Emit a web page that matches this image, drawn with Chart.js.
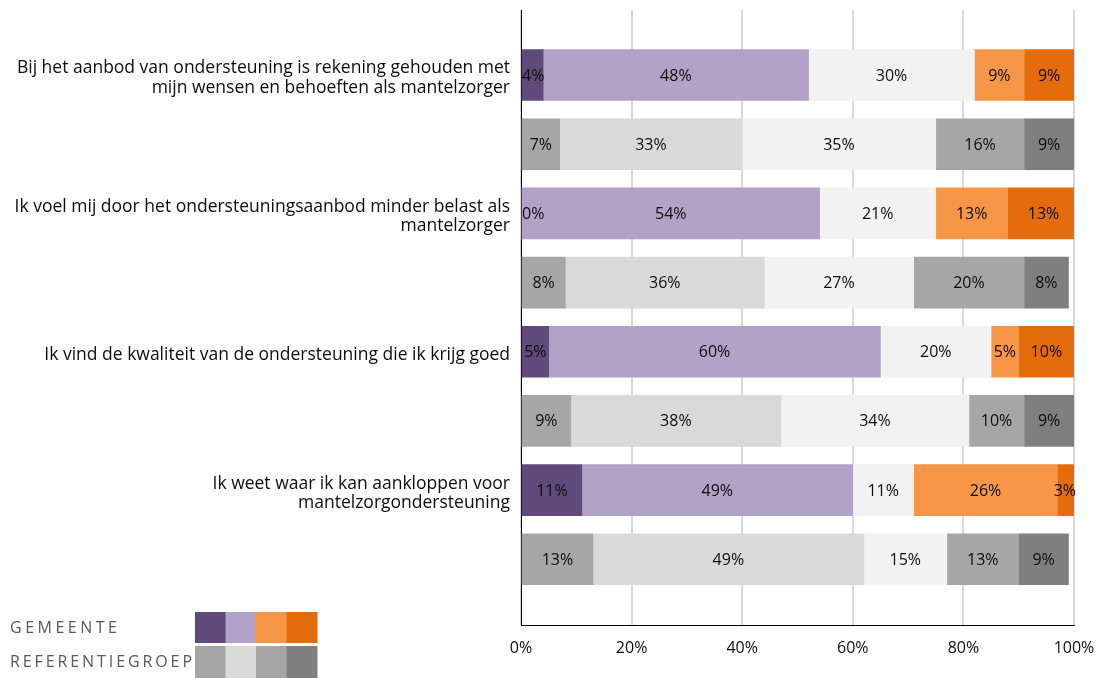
<!DOCTYPE html>
<html>
<head>
<meta charset="utf-8">
<script src="https://cdn.jsdelivr.net/npm/chart.js@4"></script>
<style>
  html, body { margin: 0; padding: 0; background: #fff; }
  #wrap { width: 1109px; height: 678px; position: relative; }
</style>
</head>
<body>
<div id="wrap"><canvas id="chart" width="1109" height="678"></canvas></div>
<script>
const questions = [
  ["Bij het aanbod van ondersteuning is rekening gehouden met", "mijn wensen en behoeften als mantelzorger"],
  ["Ik voel mij door het ondersteuningsaanbod minder belast als", "mantelzorger"],
  ["Ik vind de kwaliteit van de ondersteuning die ik krijg goed"],
  ["Ik weet waar ik kan aankloppen voor", "mantelzorgondersteuning"],
];

// rows alternate: gemeente, referentiegroep (per question)
const rows = [0, 1, 2, 3, 4, 5, 6, 7];
const part1 = [4, 7, 0, 8, 5, 9, 11, 13];
const part2 = [48, 33, 54, 36, 60, 38, 49, 49];
const part3 = [30, 35, 21, 27, 20, 34, 11, 15];
const part4 = [9, 16, 13, 20, 5, 10, 26, 13];
const part5 = [9, 9, 13, 8, 10, 9, 3, 9];
const xTicks = [0, 20, 40, 60, 80, 100];

const gemeenteColors = ["#604A7B", "#B3A2C7", "#F2F2F2", "#F79646", "#E46C0A"];
const refColors = ["#A6A6A6", "#D9D9D9", "#F2F2F2", "#A6A6A6", "#7F7F7F"];
const legendGemeente = ["#604A7B", "#B3A2C7", "#F79646", "#E46C0A"];
const legendRef = ["#A6A6A6", "#D9D9D9", "#A6A6A6", "#7F7F7F"];

const FONT = "'Open Sans'";

function makeDataset(values, k) {
  return {
    data: rows.map((r) => ({ y: r, x: values[r] })),
    backgroundColor: rows.map((r) => (r % 2 === 0 ? gemeenteColors[k] : refColors[k])),
    borderWidth: 0,
    barThickness: 51,
  };
}

const barLabels = {
  id: "barLabels",
  afterDatasetsDraw(chart) {
    const { ctx, chartArea } = chart;
    ctx.save();
    ctx.font = `16px ${FONT}`;
    ctx.fillStyle = "#0d0d0d";
    ctx.textBaseline = "middle";
    ctx.textAlign = "center";
    chart.data.datasets.forEach((ds, i) => {
      chart.getDatasetMeta(i).data.forEach((bar, j) => {
        const text = ds.data[j].x + "%";
        const w = ctx.measureText(text).width;
        let cx = (bar.x + bar.base) / 2;
        cx = Math.max(chartArea.left + w / 2 + 1, Math.min(chartArea.right - w / 2 + 2, cx));
        ctx.fillText(text, cx, bar.y + 1);
      });
    });
    ctx.restore();
  },
};

// spaced-out caps text stretched to a given width
function spacedText(ctx, text, x, y, width) {
  const w = ctx.measureText(text).width;
  const gap = (width - w) / (text.length - 1);
  let cx = x;
  for (const ch of text) {
    ctx.fillText(ch, cx, y);
    cx += ctx.measureText(ch).width + gap;
  }
}

const groupLegend = {
  id: "groupLegend",
  afterDraw(chart) {
    const { ctx } = chart;
    ctx.save();
    ctx.font = `16px ${FONT}`;
    ctx.fillStyle = "#595959";
    ctx.textBaseline = "middle";
    ctx.textAlign = "left";
    spacedText(ctx, "GEMEENTE", 10, 628, 107);
    spacedText(ctx, "REFERENTIEGROEP", 10, 662, 182);
    const sw = 30.5;
    legendGemeente.forEach((c, i) => {
      ctx.fillStyle = c;
      ctx.fillRect(195 + i * sw, 612, sw + 0.5, 31);
    });
    legendRef.forEach((c, i) => {
      ctx.fillStyle = c;
      ctx.fillRect(195 + i * sw, 646, sw + 0.5, 32);
    });
    ctx.restore();
  },
};

new Chart(document.getElementById("chart"), {
  type: "bar",
  data: {
    datasets: [part1, part2, part3, part4, part5].map(makeDataset),
  },
  plugins: [barLabels, groupLegend],
  options: {
    indexAxis: "y",
    responsive: false,
    animation: false,
    layout: { padding: { top: 10, right: 35, left: 0, bottom: 0 } },
    plugins: {
      legend: { display: false },
      tooltip: { enabled: false },
    },
    scales: {
      x: {
        type: "linear",
        stacked: true,
        min: 0,
        max: 100,
        afterBuildTicks: (scale) => {
          scale.ticks = xTicks.map((v) => ({ value: v }));
        },
        afterFit: (scale) => {
          scale.height = 53;
        },
        grid: { color: "#D9D9D9", lineWidth: 2, drawTicks: false },
        border: { color: "#000", width: 1 },
        ticks: {
          padding: 14,
          color: "#0d0d0d",
          font: { family: FONT, size: 16 },
          callback: (v) => v + "%",
        },
      },
      y: {
        type: "linear",
        stacked: true,
        reverse: true,
        offset: false,
        min: -0.94,
        max: 7.95,
        afterBuildTicks: (scale) => {
          scale.ticks = [0, 2, 4, 6].map((v) => ({ value: v }));
        },
        afterFit: (scale) => {
          scale.width = 521;
          scale.paddingTop = 0;
          scale.paddingBottom = 0;
        },
        grid: { display: false, drawTicks: false, tickLength: 0 },
        border: { color: "#000", width: 1 },
        ticks: {
          padding: 11,
          labelOffset: 3,
          color: "#0d0d0d",
          font: { family: FONT, size: 17.5, lineHeight: 1.09 },
          callback: (v) => questions[v / 2],
        },
      },
    },
  },
});
</script>
</body>
</html>
